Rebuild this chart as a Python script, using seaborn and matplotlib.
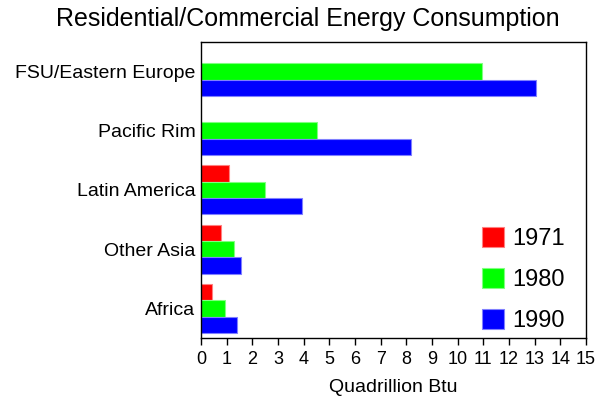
import numpy as np
import pandas as pd
import seaborn as sns
import matplotlib.pyplot as plt
from matplotlib.patches import Patch

# values (quadrillion Btu)
regions = ["FSU/Eastern Europe", "Pacific Rim", "Latin America", "Other Asia", "Africa"]
years = ["1971", "1980", "1990"]
v1971 = [np.nan, np.nan, 1.08, 0.77, 0.42]
v1980 = [10.93, 4.51, 2.48, 1.30, 0.95]
v1990 = [13.04, 8.18, 3.92, 1.55, 1.39]
colors = ["#ff0000", "#00ff00", "#0000ff"]
edges = ["#ff8080", "#80ff80", "#8080ff"]

rows = []
for yr, vals in zip(years, [v1971, v1980, v1990]):
    for reg, v in zip(regions, vals):
        rows.append({"region": reg, "year": yr, "value": v})
df = pd.DataFrame(rows).dropna()

sns.set_style("white")
plt.rcParams["font.family"] = ["Liberation Sans", "DejaVu Sans"]
plt.rcParams["text.color"] = "black"
plt.rcParams["axes.labelcolor"] = "black"
plt.rcParams["xtick.color"] = "black"
plt.rcParams["ytick.color"] = "black"

fig = plt.figure(figsize=(6.04, 4.01), dpi=100)
ax = fig.add_axes([0.3328, 0.157, 0.6374, 0.739])

sns.barplot(data=df, x="value", y="region", hue="year", order=regions,
            hue_order=years, palette=colors, orient="h", width=0.83,
            errorbar=None, ax=ax, legend=False, saturation=1)

# lighter outline on each bar, like the original
for cont, ec in zip(ax.containers, edges):
    for bar in cont:
        bar.set_edgecolor(ec)
        bar.set_linewidth(0.8)

ax.set_xlim(0, 15)
ax.set_ylim(4.5, -0.5)
ax.set_xticks(range(16))
ax.tick_params(axis="x", bottom=True, length=5, width=1, direction="out",
               labelsize=13, pad=4, color="black")
ax.tick_params(axis="y", left=False, labelsize=14, pad=0.5)
ax.set_xlabel("Quadrillion Btu", fontsize=14, labelpad=8)
ax.set_ylabel("")
for s in ax.spines.values():
    s.set_visible(True)
    s.set_color("black")
    s.set_linewidth(1)

handles = [Patch(facecolor=c, edgecolor=e, linewidth=0.8) for c, e in zip(colors, edges)]
ax.legend(handles, years, loc="lower left", bbox_to_anchor=(0.73, 0.02),
          frameon=False, fontsize=17, handlelength=0.93, handleheight=0.93,
          handletextpad=0.34, labelspacing=0.75, borderpad=0, borderaxespad=0)

fig.text(0.51, 0.953, "Residential/Commercial Energy Consumption",
         ha="center", va="center", fontsize=18)

fig.savefig("out.png", dpi=100)
